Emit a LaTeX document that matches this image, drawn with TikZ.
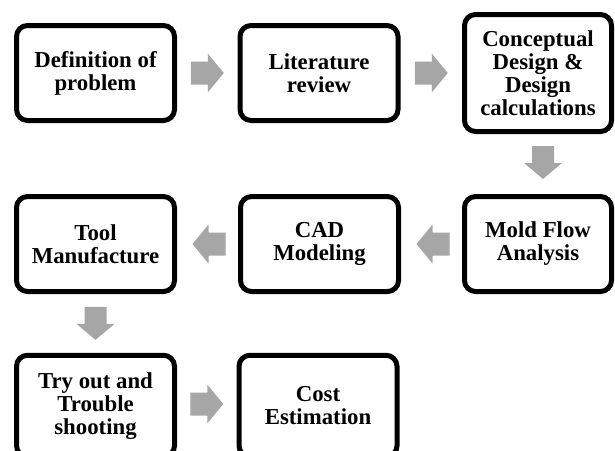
\documentclass[tikz,border=0pt]{standalone}
\usepackage{fontspec}
\setmainfont{Liberation Serif}
\usetikzlibrary{calc}
\definecolor{arrowgray}{RGB}{166,166,166}
\tikzset{
  stage/.style={draw=black, line width=5pt, rounded corners=11pt, fill=white,
    align=center, inner sep=0pt, text=black,
    font=\fontsize{22.8}{23}\selectfont\bfseries,
    minimum width=158pt, minimum height=95pt},
  tallstage/.style={stage, minimum width=147pt, minimum height=117pt},
  sidestage/.style={stage, minimum width=147pt},
  bottomstage/.style={stage, minimum height=101.5pt},
  blockarrow/.style={fill=arrowgray, draw=none}
}
\newcommand\rightblock[1]{\fill[blockarrow] (#1) ++(-16.5,-11.5) -- ++(17,0) -- ++(0,-8) -- ++(16,19.5) -- ++(-16,19.5) -- ++(0,-8) -- ++(-17,0) -- cycle;}
\newcommand\leftblock[1]{\fill[blockarrow] (#1) ++(16.5,-11.5) -- ++(-17,0) -- ++(0,-8) -- ++(-16,19.5) -- ++(16,19.5) -- ++(0,-8) -- ++(17,0) -- cycle;}
\newcommand\downblock[1]{\fill[blockarrow] (#1) ++(-11,-16.5) -- ++(0,17) -- ++(-8,0) -- ++(19,16) -- ++(19,-16) -- ++(-8,0) -- ++(0,-17) -- cycle;}
\begin{document}
\begin{tikzpicture}[x=1pt, y=-1pt]
\useasboundingbox (0,0) rectangle (615,450);
\clip (0,0) rectangle (615,450);
\fill[white] (0,0) rectangle (615,450);
% row 1
\node[stage] (b1) at (95.5,73) {Definition of\\problem};
\node[stage] (b2) at (319,73) {Literature\\review};
\node[tallstage] (b3) at (538,73) {Conceptual\\Design \&\\Design\\calculations};
% row 2
\node[sidestage] (mold) at (538,244) {Mold Flow\\Analysis};
\node[stage] (cad) at (319.5,244) {CAD\\Modeling};
\node[stage] (tool) at (95.5,244) {Tool\\Manufacture};
% row 3
\node[bottomstage] (try) at (95.5,406) {Try out and\\Trouble\\shooting};
\node[bottomstage] (cost) at (318,406) {Cost\\Estimation};
% connector positions
\coordinate (m12) at ($(b1.east)!0.5!(b2.west)$);
\coordinate (m23) at ($(b2.east)!0.5!(b3.west)$);
\coordinate (m3m) at ($(b3.south)!0.5!(mold.north)+(5,-1.5)$);
\coordinate (mmc) at ($(mold.west)!0.5!(cad.east)+(1.5,0)$);
\coordinate (mct) at ($(cad.west)!0.5!(tool.east)+(1.5,0)$);
\coordinate (mtt) at ($(tool.south)!0.5!(try.north)$);
\coordinate (mtc) at ($(try.east)!0.5!(cost.west)+(0,-2)$);
\rightblock{m12}
\rightblock{m23}
\downblock{m3m}
\leftblock{mmc}
\leftblock{mct}
\downblock{mtt}
\rightblock{mtc}
\end{tikzpicture}
\end{document}
